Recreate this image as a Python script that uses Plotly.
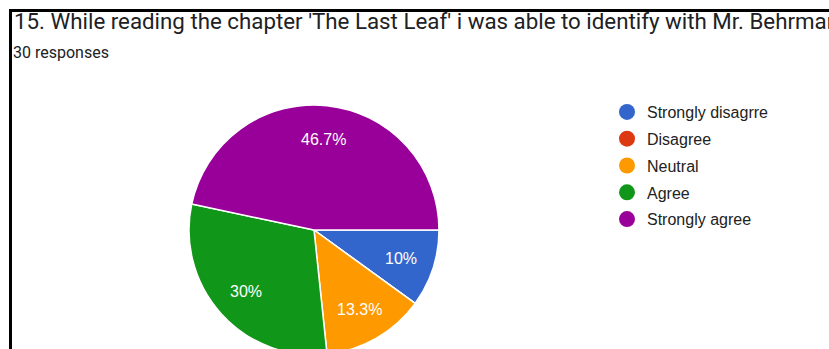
import math
import plotly.graph_objects as go

# Survey answers for question 15 (30 responses)
categories = ["Strongly disagrre", "Disagree", "Neutral", "Agree", "Strongly agree"]
counts = [3, 0, 4, 9, 14]
colors = ["#3366cc", "#dc3912", "#ff9900", "#109618", "#990099"]

title_text = "15. While reading the chapter 'The Last Leaf' i was able to identify with Mr. Behrman"
subtitle_text = "30 responses"

W, H = 829, 356
TOP, BOTTOM = 105, 1
PLOT_H = H - TOP - BOTTOM

# pie geometry (pixels)
CX, CY, R = 314, 230, 125
LABEL_R = 0.73


def py(pix):
    """Pixel row (from top) -> paper y."""
    return 1 + (TOP - pix) / PLOT_H


def px(pix):
    return pix / W


def pct_label(v, total):
    p = round(v / total * 100, 1)
    return (f"{p:.1f}".rstrip("0").rstrip(".")) + "%"


fig = go.Figure()

fig.add_trace(go.Pie(
    labels=categories,
    values=counts,
    sort=False,
    direction="clockwise",
    rotation=90,
    marker=dict(colors=colors, line=dict(color="white", width=1.5)),
    textinfo="none",
    domain=dict(x=[px(CX - R), px(CX + R)], y=[0, 1]),
    showlegend=False,
    hoverinfo="label+percent",
))

# Percentage labels at the middle of each slice, clockwise from 3 o'clock
total = sum(counts)
annotations = []
acc = 0
for v in counts:
    if v > 0:
        mid = (acc + v / 2) / total * 2 * math.pi
        lx = CX + LABEL_R * R * math.cos(mid)
        ly = CY + LABEL_R * R * math.sin(mid)
        annotations.append(dict(
            text=pct_label(v, total), x=px(lx), y=py(ly), xref="paper", yref="paper",
            xanchor="center", yanchor="middle", showarrow=False,
            font=dict(family="Liberation Sans, Arial", size=16, color="white"),
        ))
    acc += v

# Legend entries with round markers
for name, col in zip(categories, colors):
    fig.add_trace(go.Scatter(
        x=[None], y=[None], mode="markers", name=name,
        marker=dict(symbol="circle", size=16, color=col),
        legendgroup=name, showlegend=True,
    ))

annotations += [
    dict(text=title_text, x=px(12), y=py(21), xref="paper", yref="paper",
         xanchor="left", yanchor="middle", showarrow=False,
         font=dict(family="Roboto", size=22.3, color="#202124")),
    dict(text=subtitle_text, x=px(11), y=py(52), xref="paper", yref="paper",
         xanchor="left", yanchor="middle", showarrow=False,
         font=dict(family="Roboto", size=16, color="#202124")),
]

fig.update_layout(
    width=W, height=H,
    margin=dict(l=0, r=0, t=TOP, b=BOTTOM),
    paper_bgcolor="white",
    plot_bgcolor="white",
    xaxis=dict(visible=False),
    yaxis=dict(visible=False),
    legend=dict(
        x=px(607), y=py(95), xanchor="left", yanchor="top",
        font=dict(family="Liberation Sans, Arial", size=16, color="#222222"),
        tracegroupgap=3, itemsizing="trace", bgcolor="rgba(0,0,0,0)",
    ),
    annotations=annotations,
    shapes=[
        dict(type="rect", xref="paper", yref="paper",
             x0=px(10.5), x1=1.2, y0=-0.3, y1=py(10.5),
             line=dict(color="black", width=3), fillcolor="rgba(0,0,0,0)"),
    ],
)

fig.write_html(
    "out.html",
    post_script="document.documentElement.style.overflow='hidden';document.body.style.overflow='hidden';",
)
